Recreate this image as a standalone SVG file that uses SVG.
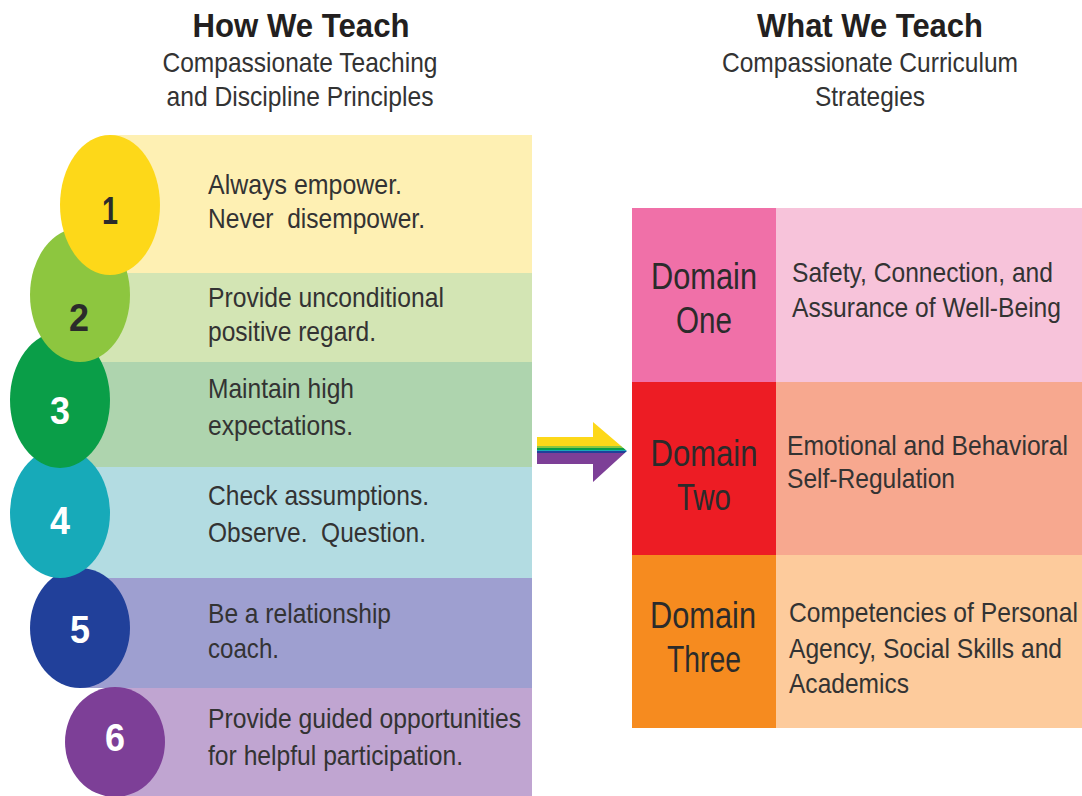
<svg xmlns="http://www.w3.org/2000/svg" width="1082" height="796" viewBox="0 0 1082 796">
<style>
text{font-family:"Liberation Sans",Arial,sans-serif;fill:#2b2b2b}
.h{font-size:33px;font-weight:bold;text-anchor:middle;fill:#231f20}
.s{font-size:28px;text-anchor:middle;fill:#333}
.t{font-size:28px;fill:#333}
.n{font-size:38px;font-weight:bold;text-anchor:middle}
.w{fill:#fff}
.d{font-size:37px;text-anchor:middle;fill:#2b2b2b}
</style>
<defs>
<linearGradient id="rb" gradientUnits="userSpaceOnUse" x1="0" y1="422" x2="0" y2="482">
<stop offset="0" stop-color="#fdd819"/>
<stop offset="0.40" stop-color="#fdd819"/>
<stop offset="0.40" stop-color="#8dc63f"/>
<stop offset="0.43" stop-color="#8dc63f"/>
<stop offset="0.43" stop-color="#0a9e48"/>
<stop offset="0.46" stop-color="#0a9e48"/>
<stop offset="0.46" stop-color="#17aab9"/>
<stop offset="0.49" stop-color="#17aab9"/>
<stop offset="0.49" stop-color="#21409a"/>
<stop offset="0.51" stop-color="#21409a"/>
<stop offset="0.51" stop-color="#7d3f97"/>
<stop offset="1" stop-color="#7d3f97"/>
</linearGradient>
</defs>
<rect width="1082" height="796" fill="#fff"/>

<g id="header-left">
<text class="h" x="301" y="37" textLength="217" lengthAdjust="spacingAndGlyphs">How We Teach</text>
<text class="s" x="300" y="72" textLength="275" lengthAdjust="spacingAndGlyphs">Compassionate Teaching</text>
<text class="s" x="300" y="106" textLength="267" lengthAdjust="spacingAndGlyphs">and Discipline Principles</text>
</g>
<g id="header-right">
<text class="h" x="870" y="37" textLength="226" lengthAdjust="spacingAndGlyphs">What We Teach</text>
<text class="s" x="870" y="72" textLength="296" lengthAdjust="spacingAndGlyphs">Compassionate Curriculum</text>
<text class="s" x="870" y="106" textLength="110" lengthAdjust="spacingAndGlyphs">Strategies</text>
</g>

<g id="bands">
<rect id="band1" x="110" y="135" width="422" height="138" fill="#fef0b3"/>
<rect id="band2" x="80" y="273" width="452" height="89" fill="#d3e5b4"/>
<rect id="band3" x="60" y="362" width="472" height="105" fill="#aed4ae"/>
<rect id="band4" x="60" y="467" width="472" height="111" fill="#b3dce2"/>
<rect id="band5" x="80" y="578" width="452" height="110" fill="#9e9fd0"/>
<rect id="band6" x="115" y="688" width="417" height="108" fill="#c0a5d1"/>
</g>

<g id="principle-6">
<ellipse cx="115" cy="742" rx="50" ry="55" fill="#7d3f97"/>
<text class="n w" x="115" y="751" textLength="20" lengthAdjust="spacingAndGlyphs">6</text>
<text class="t" x="208" y="728" textLength="313" lengthAdjust="spacingAndGlyphs">Provide guided opportunities</text>
<text class="t" x="208" y="765" textLength="255" lengthAdjust="spacingAndGlyphs">for helpful participation.</text>
</g>
<g id="principle-5">
<ellipse cx="80" cy="628" rx="50" ry="60" fill="#21409a"/>
<text class="n w" x="80" y="643" textLength="20" lengthAdjust="spacingAndGlyphs">5</text>
<text class="t" x="208" y="623" textLength="183" lengthAdjust="spacingAndGlyphs">Be a relationship</text>
<text class="t" x="208" y="658" textLength="71" lengthAdjust="spacingAndGlyphs">coach.</text>
</g>
<g id="principle-4">
<ellipse cx="60" cy="513" rx="50" ry="65" fill="#17aab9"/>
<text class="n w" x="60" y="534" textLength="20" lengthAdjust="spacingAndGlyphs">4</text>
<text class="t" x="208" y="505" textLength="221" lengthAdjust="spacingAndGlyphs">Check assumptions.</text>
<text class="t" x="208" y="542" textLength="218" lengthAdjust="spacingAndGlyphs" xml:space="preserve">Observe.  Question.</text>
</g>
<g id="principle-3">
<ellipse cx="60" cy="400" rx="50" ry="68" fill="#0a9e48"/>
<text class="n w" x="60" y="424" textLength="20" lengthAdjust="spacingAndGlyphs">3</text>
<text class="t" x="208" y="398" textLength="146" lengthAdjust="spacingAndGlyphs">Maintain high</text>
<text class="t" x="208" y="435" textLength="145" lengthAdjust="spacingAndGlyphs">expectations.</text>
</g>
<g id="principle-2">
<ellipse cx="80" cy="295" rx="50" ry="67" fill="#8dc63f"/>
<text class="n" x="79" y="331" textLength="20" lengthAdjust="spacingAndGlyphs">2</text>
<text class="t" x="208" y="307" textLength="236" lengthAdjust="spacingAndGlyphs">Provide unconditional</text>
<text class="t" x="208" y="341" textLength="168" lengthAdjust="spacingAndGlyphs">positive regard.</text>
</g>
<g id="principle-1">
<ellipse cx="110" cy="205" rx="50" ry="70" fill="#fdd819"/>
<text class="n" x="110" y="224" textLength="16" lengthAdjust="spacingAndGlyphs">1</text>
<text class="t" x="208" y="194" textLength="194" lengthAdjust="spacingAndGlyphs">Always empower.</text>
<text class="t" x="208" y="228" textLength="217" lengthAdjust="spacingAndGlyphs" xml:space="preserve">Never  disempower.</text>
</g>

<g id="connectors">
<path d="M537 437 L593 437 L593 422 L627 451 L593 482 L593 464 L537 464 Z" fill="url(#rb)"/>
</g>

<g id="domain-1">
<rect x="632" y="208" width="144" height="174" fill="#f070a8"/>
<rect x="776" y="208" width="306" height="174" fill="#f7c3da"/>
<text class="d" x="704" y="289" textLength="106" lengthAdjust="spacingAndGlyphs">Domain</text>
<text class="d" x="704" y="333" textLength="56" lengthAdjust="spacingAndGlyphs">One</text>
<text class="t" x="792" y="282" textLength="261" lengthAdjust="spacingAndGlyphs">Safety, Connection, and</text>
<text class="t" x="792" y="317" textLength="269" lengthAdjust="spacingAndGlyphs">Assurance of Well-Being</text>
</g>
<g id="domain-2">
<rect x="632" y="382" width="144" height="173" fill="#ed1c24"/>
<rect x="776" y="382" width="306" height="173" fill="#f7a88f"/>
<text class="d w" x="704" y="466" textLength="107" lengthAdjust="spacingAndGlyphs">Domain</text>
<text class="d w" x="704" y="510" textLength="54" lengthAdjust="spacingAndGlyphs">Two</text>
<text class="t" x="787" y="455" textLength="281" lengthAdjust="spacingAndGlyphs">Emotional and Behavioral</text>
<text class="t" x="787" y="488" textLength="168" lengthAdjust="spacingAndGlyphs">Self-Regulation</text>
</g>
<g id="domain-3">
<rect x="632" y="555" width="144" height="173" fill="#f68b1f"/>
<rect x="776" y="555" width="306" height="173" fill="#fdcb9c"/>
<text class="d" x="703" y="628" textLength="106" lengthAdjust="spacingAndGlyphs">Domain</text>
<text class="d" x="704" y="672" textLength="74" lengthAdjust="spacingAndGlyphs">Three</text>
<text class="t" x="789" y="622" textLength="289" lengthAdjust="spacingAndGlyphs">Competencies of Personal</text>
<text class="t" x="789" y="658" textLength="273" lengthAdjust="spacingAndGlyphs">Agency, Social Skills and</text>
<text class="t" x="789" y="693" textLength="120" lengthAdjust="spacingAndGlyphs">Academics</text>
</g>
</svg>
